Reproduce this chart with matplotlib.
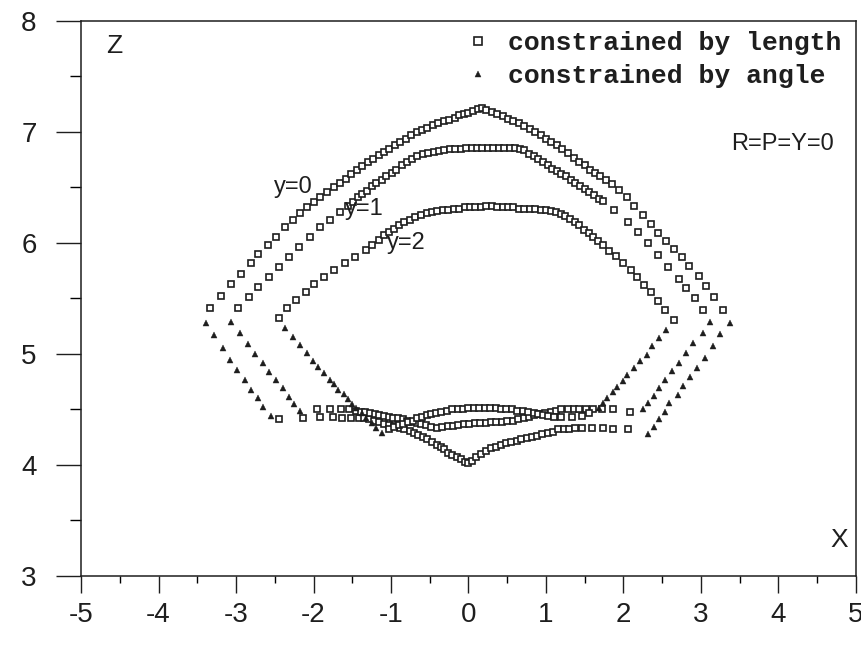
import matplotlib
matplotlib.use("Agg")
import matplotlib.pyplot as plt
from matplotlib.ticker import MultipleLocator

# workspace boundaries (x, z)
# squares = constrained by length, triangles = constrained by angle

# ---- y = 0 ----
y0_top = [(-3.33, 5.41), (-3.19, 5.52), (-3.07, 5.63), (-2.94, 5.72), (-2.81, 5.82),
          (-2.71, 5.90), (-2.59, 5.98), (-2.49, 6.05), (-2.37, 6.14), (-2.27, 6.21),
          (-2.18, 6.27), (-2.08, 6.32), (-1.99, 6.37), (-1.91, 6.41), (-1.83, 6.46),
          (-1.74, 6.50), (-1.66, 6.54), (-1.58, 6.58), (-1.51, 6.62), (-1.44, 6.66),
          (-1.37, 6.69), (-1.30, 6.73), (-1.23, 6.76), (-1.16, 6.79), (-1.09, 6.82),
          (-1.02, 6.85), (-0.95, 6.88), (-0.88, 6.91), (-0.81, 6.94), (-0.74, 6.97),
          (-0.67, 7.00), (-0.60, 7.02), (-0.53, 7.04), (-0.46, 7.06), (-0.39, 7.08),
          (-0.32, 7.10), (-0.25, 7.11), (-0.18, 7.13), (-0.12, 7.15), (-0.06, 7.16),
          (0.00, 7.17), (0.06, 7.19), (0.12, 7.21), (0.17, 7.22), (0.23, 7.20),
          (0.30, 7.18), (0.37, 7.16), (0.44, 7.14), (0.51, 7.12), (0.58, 7.10),
          (0.65, 7.08), (0.72, 7.05), (0.79, 7.03), (0.86, 7.00), (0.93, 6.97),
          (1.00, 6.94), (1.07, 6.91), (1.14, 6.88), (1.21, 6.85), (1.29, 6.81),
          (1.36, 6.77), (1.43, 6.73), (1.50, 6.70), (1.57, 6.66), (1.63, 6.63),
          (1.70, 6.60), (1.77, 6.57), (1.85, 6.53), (1.94, 6.48), (2.04, 6.41),
          (2.14, 6.33), (2.25, 6.25), (2.35, 6.17), (2.45, 6.09), (2.55, 6.02),
          (2.65, 5.95), (2.75, 5.87), (2.85, 5.79), (2.97, 5.70), (3.06, 5.61),
          (3.17, 5.51), (3.29, 5.40)]
y0_bottom = [(-2.44, 4.41), (-2.13, 4.42), (-1.92, 4.43), (-1.75, 4.43), (-1.63, 4.42),
             (-1.51, 4.42), (-1.41, 4.42), (-1.35, 4.42), (-1.28, 4.41), (-1.22, 4.40),
             (-1.15, 4.39), (-1.09, 4.37), (-1.02, 4.36), (-0.96, 4.35), (-0.89, 4.33),
             (-0.83, 4.32), (-0.76, 4.31), (-0.70, 4.29), (-0.65, 4.27), (-0.59, 4.25),
             (-0.53, 4.23), (-0.47, 4.21), (-0.41, 4.18), (-0.36, 4.16), (-0.31, 4.14),
             (-0.26, 4.11), (-0.21, 4.09), (-0.15, 4.07), (-0.10, 4.05), (-0.05, 4.03),
             (0.00, 4.02), (0.05, 4.04), (0.10, 4.07), (0.16, 4.10), (0.23, 4.13),
             (0.29, 4.15), (0.36, 4.16), (0.42, 4.18), (0.49, 4.20), (0.55, 4.21),
             (0.62, 4.22), (0.68, 4.23), (0.75, 4.24), (0.82, 4.25), (0.88, 4.26),
             (0.95, 4.28), (1.02, 4.29), (1.09, 4.30), (1.16, 4.32), (1.23, 4.32),
             (1.30, 4.32), (1.38, 4.33), (1.46, 4.33), (1.59, 4.33), (1.74, 4.33),
             (1.87, 4.32), (2.06, 4.32)]
y0_left_ang = [(-3.39, 5.28), (-3.28, 5.17), (-3.17, 5.05), (-3.08, 4.95), (-2.99, 4.86),
               (-2.89, 4.77), (-2.81, 4.68), (-2.72, 4.60), (-2.65, 4.52), (-2.55, 4.44)]
y0_right_ang = [(3.37, 5.28), (3.25, 5.18), (3.15, 5.07), (3.05, 4.96), (2.95, 4.87),
                (2.86, 4.79), (2.77, 4.71), (2.70, 4.63), (2.59, 4.56), (2.53, 4.48),
                (2.46, 4.41), (2.39, 4.34), (2.32, 4.28)]

# ---- y = 1 ----
y1_top = [(-2.97, 5.41), (-2.83, 5.51), (-2.71, 5.60), (-2.58, 5.69), (-2.45, 5.78),
          (-2.32, 5.87), (-2.19, 5.96), (-2.05, 6.05), (-1.92, 6.14), (-1.79, 6.21),
          (-1.66, 6.28), (-1.55, 6.33), (-1.49, 6.37), (-1.43, 6.41), (-1.37, 6.44),
          (-1.31, 6.47), (-1.25, 6.51), (-1.19, 6.54), (-1.12, 6.57), (-1.06, 6.60),
          (-0.99, 6.63), (-0.93, 6.66), (-0.86, 6.70), (-0.80, 6.73), (-0.73, 6.76),
          (-0.66, 6.78), (-0.59, 6.80), (-0.52, 6.81), (-0.45, 6.82), (-0.38, 6.83),
          (-0.31, 6.84), (-0.24, 6.85), (-0.17, 6.85), (-0.10, 6.85), (-0.03, 6.86),
          (0.04, 6.86), (0.11, 6.86), (0.18, 6.86), (0.25, 6.86), (0.32, 6.86),
          (0.39, 6.86), (0.46, 6.86), (0.53, 6.86), (0.60, 6.86), (0.66, 6.85),
          (0.72, 6.84), (0.78, 6.80), (0.84, 6.78), (0.90, 6.76), (0.96, 6.73),
          (1.02, 6.70), (1.08, 6.67), (1.14, 6.65), (1.20, 6.62), (1.26, 6.60),
          (1.32, 6.57), (1.38, 6.54), (1.44, 6.51), (1.50, 6.49), (1.56, 6.46),
          (1.62, 6.43), (1.68, 6.40), (1.74, 6.38), (1.88, 6.30), (2.06, 6.19),
          (2.19, 6.10), (2.32, 6.00), (2.45, 5.89), (2.58, 5.78), (2.71, 5.68),
          (2.81, 5.59), (2.92, 5.50), (3.03, 5.40)]
y1_bottom = [(-1.96, 4.50), (-1.79, 4.50), (-1.64, 4.50), (-1.54, 4.50), (-1.45, 4.49),
             (-1.39, 4.48), (-1.33, 4.48), (-1.27, 4.47), (-1.21, 4.46), (-1.15, 4.45),
             (-1.09, 4.44), (-1.03, 4.43), (-0.97, 4.42), (-0.91, 4.42), (-0.85, 4.41),
             (-0.79, 4.40), (-0.73, 4.39), (-0.67, 4.38), (-0.61, 4.37), (-0.55, 4.36),
             (-0.48, 4.34), (-0.41, 4.33), (-0.34, 4.34), (-0.27, 4.35), (-0.20, 4.35),
             (-0.13, 4.36), (-0.06, 4.37), (0.01, 4.37), (0.08, 4.38), (0.15, 4.38),
             (0.22, 4.38), (0.29, 4.39), (0.36, 4.39), (0.43, 4.39), (0.50, 4.40),
             (0.57, 4.40), (0.64, 4.41), (0.71, 4.42), (0.78, 4.43), (0.85, 4.45),
             (0.92, 4.46), (0.99, 4.47), (1.06, 4.48), (1.13, 4.49), (1.20, 4.50),
             (1.28, 4.50), (1.36, 4.50), (1.43, 4.50), (1.52, 4.50), (1.61, 4.50),
             (1.72, 4.50), (1.87, 4.50), (2.08, 4.48)]
y1_left_ang = [(-3.07, 5.29), (-2.95, 5.19), (-2.84, 5.09), (-2.75, 5.00), (-2.65, 4.92),
               (-2.57, 4.84), (-2.48, 4.77), (-2.40, 4.69), (-2.32, 4.61), (-2.25, 4.55),
               (-2.18, 4.49)]
y1_right_ang = [(3.12, 5.29), (3.02, 5.19), (2.90, 5.10), (2.81, 5.01), (2.72, 4.92),
                (2.63, 4.85), (2.54, 4.77), (2.46, 4.69), (2.39, 4.62), (2.32, 4.56),
                (2.25, 4.50)]

# ---- y = 2 ----
y2_top = [(-2.45, 5.32), (-2.34, 5.41), (-2.22, 5.49), (-2.10, 5.56), (-1.99, 5.63),
          (-1.86, 5.69), (-1.73, 5.76), (-1.60, 5.82), (-1.47, 5.87), (-1.32, 5.94),
          (-1.24, 5.98), (-1.16, 6.03), (-1.09, 6.07), (-1.03, 6.10), (-0.96, 6.13),
          (-0.90, 6.16), (-0.83, 6.19), (-0.76, 6.21), (-0.69, 6.23), (-0.61, 6.25),
          (-0.54, 6.27), (-0.47, 6.28), (-0.40, 6.29), (-0.33, 6.30), (-0.26, 6.30),
          (-0.19, 6.31), (-0.12, 6.31), (-0.05, 6.32), (0.02, 6.32), (0.09, 6.32),
          (0.16, 6.32), (0.23, 6.33), (0.30, 6.33), (0.37, 6.32), (0.44, 6.32),
          (0.51, 6.32), (0.58, 6.32), (0.65, 6.31), (0.72, 6.31), (0.79, 6.31),
          (0.86, 6.31), (0.93, 6.30), (1.00, 6.30), (1.07, 6.29), (1.13, 6.28),
          (1.19, 6.26), (1.25, 6.24), (1.31, 6.22), (1.37, 6.19), (1.43, 6.16),
          (1.49, 6.12), (1.55, 6.09), (1.61, 6.05), (1.67, 6.02), (1.73, 5.98),
          (1.81, 5.93), (1.90, 5.88), (2.00, 5.82), (2.10, 5.76), (2.18, 5.69),
          (2.26, 5.62), (2.35, 5.56), (2.44, 5.48), (2.54, 5.40), (2.65, 5.31)]
y2_bottom = [(-1.02, 4.32), (-0.96, 4.34), (-0.90, 4.36), (-0.84, 4.37), (-0.78, 4.39),
             (-0.72, 4.40), (-0.66, 4.42), (-0.60, 4.43), (-0.54, 4.45), (-0.48, 4.46),
             (-0.42, 4.47), (-0.35, 4.48), (-0.28, 4.49), (-0.21, 4.50), (-0.14, 4.50),
             (-0.07, 4.50), (0.00, 4.51), (0.07, 4.51), (0.14, 4.51), (0.21, 4.51),
             (0.28, 4.51), (0.35, 4.51), (0.42, 4.50), (0.49, 4.50), (0.56, 4.50),
             (0.63, 4.49), (0.70, 4.49), (0.77, 4.48), (0.84, 4.47), (0.90, 4.46),
             (0.96, 4.45), (1.03, 4.44), (1.10, 4.43), (1.20, 4.43), (1.33, 4.43),
             (1.46, 4.44), (1.56, 4.47)]
y2_left_ang = [(-2.37, 5.23), (-2.27, 5.15), (-2.18, 5.08), (-2.09, 5.01), (-2.01, 4.94),
               (-1.94, 4.88), (-1.87, 4.83), (-1.79, 4.77), (-1.73, 4.73), (-1.68, 4.68),
               (-1.61, 4.64), (-1.55, 4.59), (-1.50, 4.55), (-1.45, 4.51), (-1.38, 4.47),
               (-1.32, 4.42), (-1.25, 4.38), (-1.19, 4.33), (-1.12, 4.29)]
y2_right_ang = [(2.55, 5.22), (2.46, 5.14), (2.37, 5.07), (2.30, 4.99), (2.21, 4.94),
                (2.13, 4.87), (2.05, 4.81), (1.99, 4.76), (1.92, 4.70), (1.86, 4.66),
                (1.79, 4.60), (1.74, 4.56), (1.68, 4.51)]

curve_labels = ["y=0", "y=1", "y=2"]
label_pos = [(-2.26, 6.50), (-1.34, 6.31), (-0.80, 6.00)]

INK = "#1e1e1e"
plt.rcParams['font.family'] = ['Liberation Sans', 'DejaVu Sans']
plt.rcParams['axes.unicode_minus'] = False

fig = plt.figure(figsize=(8.62, 6.52), dpi=100)
ax = fig.add_axes([0.094, 0.1166, 0.899, 0.8512])


def split(pts):
    return [p[0] for p in pts], [p[1] for p in pts]


def squares(pts, label=None):
    xs, zs = split(pts)
    return ax.plot(xs, zs, ls='none', marker='s', ms=4.6, mfc='white',
                   mec=INK, mew=1.2, label=label)[0]


def triangles(pts, label=None):
    xs, zs = split(pts)
    return ax.plot(xs, zs, ls='none', marker='^', ms=4.0, mfc=INK,
                   mec=INK, mew=0.3, label=label)[0]


h_len = squares(y0_top, "constrained by length")
for pts in [y0_bottom, y1_top, y1_bottom, y2_top, y2_bottom]:
    squares(pts)
h_ang = triangles(y0_left_ang, "constrained by angle")
for pts in [y0_right_ang, y1_left_ang, y1_right_ang, y2_left_ang, y2_right_ang]:
    triangles(pts)

for txt, (lx, lz) in zip(curve_labels, label_pos):
    ax.text(lx, lz, txt, ha='center', va='center', fontsize=17, color=INK)

ax.text(4.05, 6.89, "R=P=Y=0", ha='center', va='center', fontsize=17, color=INK)
ax.text(0.043, 0.955, "Z", transform=ax.transAxes, ha='center', va='center',
        fontsize=19, color=INK)
ax.text(0.978, 0.065, "X", transform=ax.transAxes, ha='center', va='center',
        fontsize=19, color=INK)

leg = ax.legend(handles=[h_len, h_ang], loc='upper left', bbox_to_anchor=(0.495, 0.982),
                frameon=False, borderaxespad=0, borderpad=0, handlelength=1.0,
                handletextpad=0.65, labelspacing=0.35, markerscale=1.2,
                prop=dict(family=['Liberation Mono', 'DejaVu Sans Mono'],
                          weight='bold', size=19))
for t in leg.get_texts():
    t.set_color(INK)

ax.set_xlim(-5, 5)
ax.set_ylim(3, 8)
ax.xaxis.set_major_locator(MultipleLocator(1))
ax.xaxis.set_minor_locator(MultipleLocator(0.5))
ax.yaxis.set_major_locator(MultipleLocator(1))
ax.yaxis.set_minor_locator(MultipleLocator(0.5))

ax.tick_params(axis='x', which='major', direction='out', length=12, width=1.0,
               pad=7, labelsize=20, colors=INK)
ax.tick_params(axis='x', which='minor', direction='out', length=5, width=1.0)
ax.tick_params(axis='y', which='major', direction='out', length=18, width=1.0,
               pad=14, labelsize=20, colors=INK)
ax.tick_params(axis='y', which='minor', direction='out', length=8, width=1.0)
for s in ax.spines.values():
    s.set_linewidth(1.1)
    s.set_color(INK)

fig.savefig("out.png", dpi=100, facecolor='white')
